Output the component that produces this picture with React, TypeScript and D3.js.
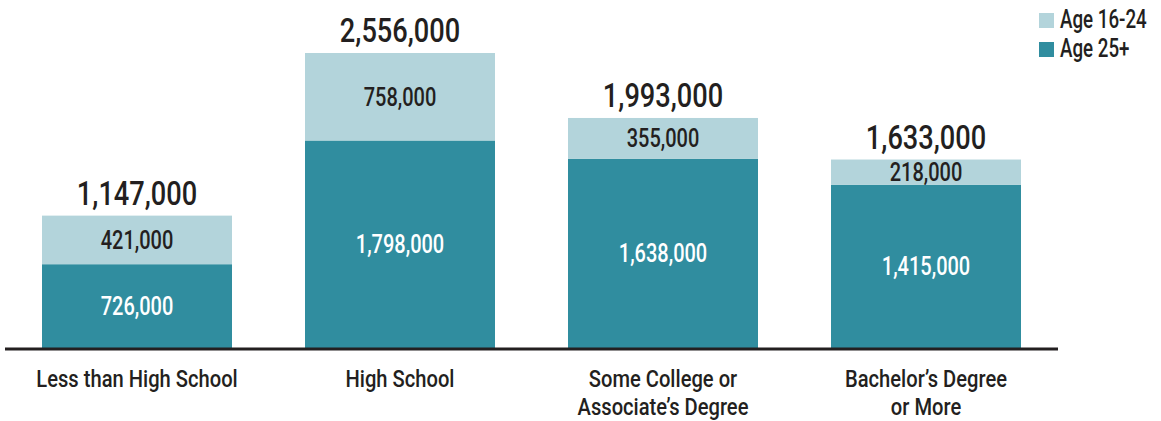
import React from "react";
import * as d3 from "d3";

const categories = [
  ["Less than High School"],
  ["High School"],
  ["Some College or", "Associate\u2019s Degree"],
  ["Bachelor\u2019s Degree", "or More"],
];
const age25plus = [726000, 1798000, 1638000, 1415000];
const age16to24 = [421000, 758000, 355000, 218000];
const totals = [1147000, 2556000, 1993000, 1633000];
const seriesNames = ["Age 16-24", "Age 25+"];

const W = 1161;
const H = 421;
const DARK = "#308d9f";
const LIGHT = "#b3d4db";
const TEXT = "#231f20";
const FONT = "Roboto, 'Noto Sans', sans-serif";

function T(props: {
  x: number;
  y: number;
  size: number;
  sx?: number;
  weight?: number | string;
  fill?: string;
  anchor?: "start" | "middle" | "end";
  dy?: string;
  children: React.ReactNode;
}) {
  return (
    <text
      transform={`translate(${props.x},${props.y}) scale(${props.sx ?? 0.8},1)`}
      textAnchor={props.anchor ?? "middle"}
      fontSize={props.size}
      fontWeight={props.weight ?? 500}
      fill={props.fill ?? TEXT}
      dy={props.dy}
    >
      {props.children}
    </text>
  );
}

export default function App() {
  const idx = categories.map((_, i) => i);
  const x = d3.scaleBand<number>().domain(idx).range([5, 1058]).paddingInner(0.2776).paddingOuter(0.1407);
  const y = d3.scaleLinear().domain([0, 2556000]).range([348, 53]);
  const fmt = d3.format(",");
  const bw = x.bandwidth();

  return (
    <svg width={W} height={H} style={{ position: "absolute", left: 0, top: 0 }} fontFamily={FONT}>
      {idx.map((i) => {
        const x0 = x(i)!;
        const cx = x0 + bw / 2;
        const yBase = y(0);
        const yMid = y(age25plus[i]);
        const yTop = y(age25plus[i] + age16to24[i]);
        return (
          <g key={i}>
            <rect x={x0} y={yMid} width={bw} height={yBase - yMid} fill={DARK} />
            <rect x={x0} y={yTop} width={bw} height={yMid - yTop} fill={LIGHT} />
            <T x={cx} y={(yBase + yMid) / 2} dy="0.35em" size={25} fill="#fff">
              {fmt(age25plus[i])}
            </T>
            <T x={cx} y={(yMid + yTop) / 2} dy="0.35em" size={25}>
              {fmt(age16to24[i])}
            </T>
            <T x={cx} y={y(totals[i]) - 11} size={34} sx={0.8} weight={500}>
              {fmt(totals[i])}
            </T>
            {categories[i].map((line, j) => (
              <T key={j} x={cx} y={387 + j * 28} size={24} sx={0.84}>
                {line}
              </T>
            ))}
          </g>
        );
      })}
      <line x1={5} x2={1058} y1={349} y2={349} stroke={TEXT} strokeWidth={3} />
      {seriesNames.map((name, k) => (
        <g key={name}>
          <rect x={1039} y={13 + k * 29} width={15} height={15} fill={k === 0 ? LIGHT : DARK} />
          <T x={1060} y={28 + k * 29} size={25} sx={0.75} anchor="start">
            {name}
          </T>
        </g>
      ))}
    </svg>
  );
}
